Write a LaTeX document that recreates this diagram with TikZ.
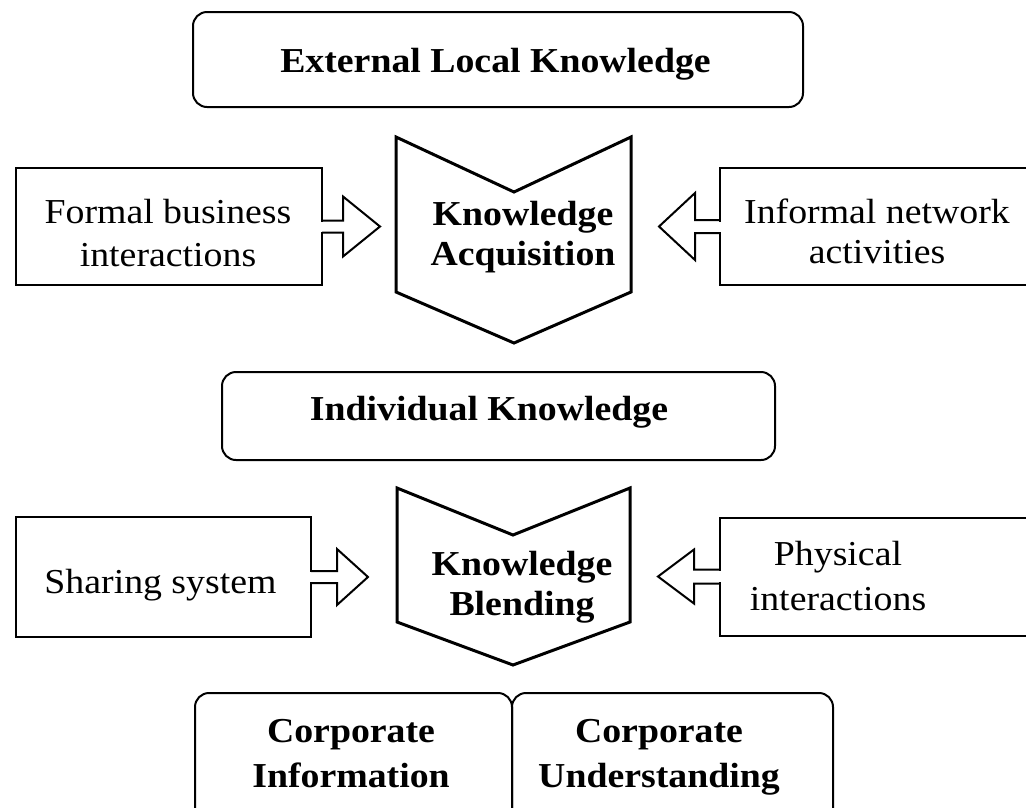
\documentclass[tikz,border=0pt]{standalone}
\usepackage{fontspec}
\setmainfont{Liberation Serif}[FakeStretch=1.08]
\newcommand\twol[3]{{\fontsize{35}{#1}\selectfont\begin{tabular}[t]{@{}c@{}}#2\\#3\end{tabular}}}
\begin{document}
\begin{tikzpicture}[x=1pt,y=-1pt,
  sqbox/.style={draw,line width=2pt,inner sep=0pt,outer sep=0pt,rectangle},
  rbox/.style={sqbox,rounded corners=14pt},
  chev/.style={draw,line width=3pt,line join=miter},
  barrow/.style={draw,line width=2pt,line join=miter},
  cover/.style={fill=white},
  txt/.style={inner sep=0pt,anchor=base,font=\fontsize{35}{42}\selectfont},
  btxt/.style={txt,font=\fontsize{35}{42}\selectfont\bfseries}]
\useasboundingbox (0,0) rectangle (1026,807);
\fill[white] (0,0) rectangle (1026,807);

% top box
\node[rbox,minimum width=610pt,minimum height=95pt] (ext) at (498,59.5) {};
\node[btxt] (extt) at (495.5,72) {External Local Knowledge};

% row 1
\node[sqbox,minimum width=306pt,minimum height=117pt] (l1) at (169,226.5) {};
\node[txt] (l1t) at (168,223) {\twol{43}{Formal business}{interactions}};
\node[sqbox,minimum width=320pt,minimum height=117pt] (r1) at (880,226.5) {};
\node[txt] (r1t) at (877,223) {\twol{40}{Informal network}{activities}};

\draw[chev] (396,137) -- (514,192) -- (631,137) -- (631,292) -- (514,343) -- (396,292) -- cycle;
\coordinate (acq) at (514,240);
\node[btxt] (acqt) at (523,225) {\twol{40}{Knowledge}{Acquisition}};

% arrows row 1
\path[cover] (l1.east) ++(-1.5,-5) rectangle ++(3,10);
\draw[barrow] (l1.east) ++(0,-6) -- ++(21,0) -- ++(0,-24) -- ++(37,30) -- ++(-37,30) -- ++(0,-24) -- ++(-21,0);
\path[cover] (r1.west) ++(-1.5,-5) rectangle ++(3,10);
\draw[barrow] (r1.west) ++(0,-6.5) -- ++(-25,0) -- ++(0,-27) -- ++(-36,33.5) -- ++(36,33.5) -- ++(0,-27) -- ++(25,0);

% middle box
\node[rbox,minimum width=553pt,minimum height=88pt] (ind) at (498.5,416) {};
\node[btxt] (indt) at (489,420) {Individual Knowledge};

% row 2
\node[sqbox,minimum width=295pt,minimum height=120pt] (l2) at (163.5,577) {};
\node[txt] (l2t) at (160.5,593) {Sharing system};
\node[sqbox,minimum width=320pt,minimum height=118pt] (r2) at (880,576.5) {};
\node[txt] (r2t) at (838,565) {\twol{45}{Physical}{interactions}};

\draw[chev] (397,488) -- (513,535) -- (630,488) -- (630,622) -- (513,665) -- (397,622) -- cycle;
\coordinate (blend) at (513,580);
\node[btxt] (blendt) at (522,575) {\twol{40}{Knowledge}{Blending}};

% arrows row 2
\path[cover] (l2.east) ++(-1.5,-5) rectangle ++(3,10);
\draw[barrow] (l2.east) ++(0,-6) -- ++(26,0) -- ++(0,-22) -- ++(31,28) -- ++(-31,28) -- ++(0,-22) -- ++(-26,0);
\path[cover] (r2.west) ++(-1.5,-5.5) rectangle ++(3,11);
\draw[barrow] (r2.west) ++(0,-7) -- ++(-26,0) -- ++(0,-20) -- ++(-36,27) -- ++(36,27) -- ++(0,-20) -- ++(26,0);

% bottom boxes
\node[rbox,minimum width=317pt,minimum height=130pt] (ci) at (353.5,758) {};
\node[btxt] (cit) at (351,742) {\twol{45}{Corporate}{Information}};
\node[rbox,minimum width=321pt,minimum height=130pt] (cu) at (672.5,758) {};
\node[btxt] (cut) at (659,742) {\twol{45}{Corporate}{Understanding}};
\end{tikzpicture}
\end{document}
